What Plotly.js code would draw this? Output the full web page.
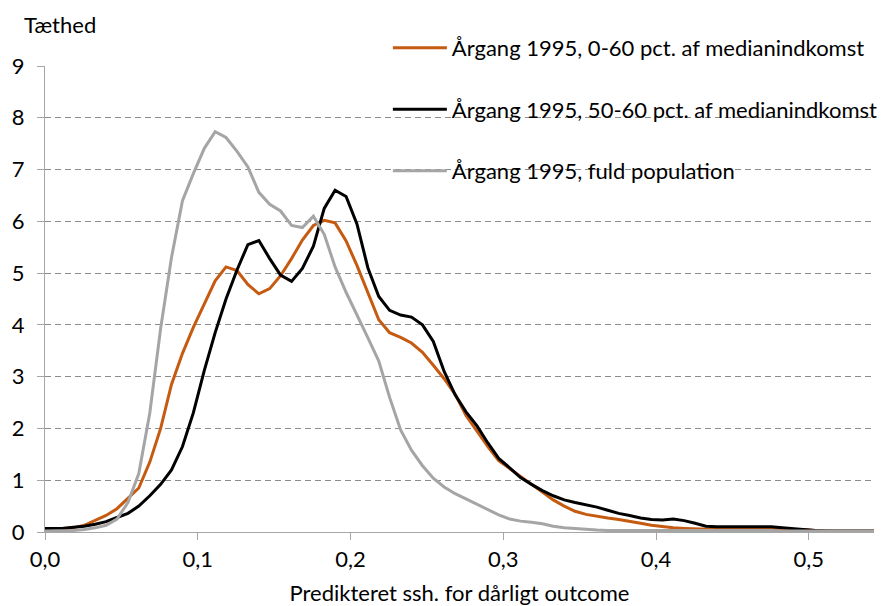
<!DOCTYPE html>
<html>
<head>
<meta charset="utf-8">
<script src="https://cdn.plot.ly/plotly-3.0.1.min.js"></script>
<style>html,body{margin:0;padding:0;background:#fff;}#chart{width:883px;height:606px;}</style>
</head>
<body>
<div id="chart"></div>
<script>
// x: predicted probability grid
const xVals = [0.0000,0.0114,0.0186,0.0257,0.0329,0.0400,0.0471,0.0543,0.0614,0.0686,0.0757,0.0828,0.0900,0.0971,0.1043,0.1114,0.1185,0.1257,0.1328,0.1400,0.1471,0.1542,0.1614,0.1685,0.1757,0.1828,0.1899,0.1971,0.2042,0.2114,0.2185,0.2256,0.2328,0.2399,0.2471,0.2542,0.2613,0.2685,0.2756,0.2828,0.2899,0.2970,0.3042,0.3113,0.3185,0.3256,0.3327,0.3399,0.3470,0.3542,0.3613,0.3684,0.3756,0.3827,0.3899,0.3970,0.4041,0.4113,0.4184,0.4256,0.4327,0.4398,0.4470,0.4541,0.4613,0.4684,0.4755,0.4827,0.4898,0.4970,0.5041,0.5112,0.5184,0.5255,0.5327,0.5398,0.5469];

const seriesNames = ["Årgang 1995, 0-60 pct. af medianindkomst","Årgang 1995, 50-60 pct. af medianindkomst","Årgang 1995, fuld population"];

const orange = [0.05,0.06,0.08,0.13,0.22,0.32,0.45,0.65,0.85,1.35,2.00,2.85,3.45,3.95,4.40,4.85,5.12,5.05,4.78,4.60,4.70,4.95,5.28,5.64,5.92,6.02,5.97,5.62,5.15,4.62,4.10,3.85,3.76,3.65,3.47,3.22,2.96,2.66,2.25,1.95,1.65,1.38,1.22,1.08,0.92,0.77,0.62,0.50,0.40,0.34,0.30,0.27,0.24,0.21,0.17,0.13,0.10,0.08,0.07,0.06,0.05,0.05,0.05,0.05,0.05,0.05,0.05,0.05,0.05,0.05,0.03,0.02,0.02,0.02,0.02,0.02,0.02];

const black = [0.07,0.07,0.09,0.11,0.15,0.20,0.28,0.36,0.50,0.70,0.92,1.20,1.65,2.30,3.12,3.85,4.50,5.06,5.55,5.63,5.28,4.96,4.84,5.09,5.52,6.25,6.60,6.48,5.95,5.10,4.55,4.28,4.19,4.15,4.00,3.68,3.10,2.65,2.32,2.05,1.72,1.42,1.24,1.05,0.92,0.80,0.70,0.62,0.57,0.53,0.48,0.42,0.36,0.32,0.27,0.24,0.23,0.25,0.22,0.17,0.11,0.10,0.10,0.10,0.11,0.11,0.10,0.08,0.06,0.05,0.03,0.02,0.02,0.02,0.02,0.02,0.02];

const gray = [0.02,0.02,0.03,0.05,0.08,0.13,0.25,0.57,1.13,2.30,3.93,5.30,6.40,6.92,7.41,7.73,7.62,7.35,7.05,6.56,6.33,6.20,5.92,5.88,6.10,5.75,5.12,4.63,4.20,3.75,3.30,2.60,1.97,1.58,1.28,1.04,0.87,0.74,0.64,0.54,0.44,0.33,0.25,0.21,0.19,0.16,0.11,0.08,0.07,0.05,0.04,0.03,0.03,0.03,0.03,0.04,0.04,0.03,0.03,0.03,0.03,0.03,0.03,0.03,0.03,0.03,0.03,0.02,0.02,0.02,0.02,0.02,0.02,0.02,0.02,0.02,0.02];

const xTicks = [0, 0.1, 0.2, 0.3, 0.4, 0.5];
const yTicks = [0,1,2,3,4,5,6,7,8,9];

const FONT = "Lato, Carlito, Calibri, 'Open Sans', sans-serif";
const FS = 22;
const colors = ["#C55A11", "#000000", "#A5A5A5"];
const data = [orange, black, gray].map((ys, i) => ({
  x: xVals, y: ys, type: "scatter", mode: "lines",
  name: seriesNames[i], legendgroup: "g" + i,
  line: {color: colors[i], width: 3},
  hoverinfo: "skip"
}));

const layout = {
  width: 883, height: 606,
  margin: {l: 45, r: 0, t: 66, b: 74},
  paper_bgcolor: "#fff", plot_bgcolor: "#fff",
  separators: ",.",
  font: {family: FONT, size: FS, color: "#000"},
  showlegend: true,
  legend: {
    x: 0.4136, y: 1.084, xanchor: "left", yanchor: "top",
    bgcolor: "rgba(0,0,0,0)", borderwidth: 0,
    traceorder: "grouped", tracegroupgap: 30,
    font: {family: FONT, size: FS, color: "#000"},
    itemwidth: 54
  },
  xaxis: {
    range: [0, 0.5427], tickvals: xTicks, tickformat: ".1f",
    showgrid: false, zeroline: false,
    showline: true, linecolor: "#A6A6A6", linewidth: 1,
    ticks: "outside", ticklen: 7, tickcolor: "#A6A6A6",
    tickfont: {family: FONT, size: FS},
    ticklabelstandoff: 1,
    title: {text: "Predikteret ssh. for dårligt outcome", font: {family: FONT, size: FS}, standoff: 23},
    automargin: false
  },
  yaxis: {
    range: [0, 9], tickvals: yTicks,
    showgrid: true, gridcolor: "#8C8C8C", griddash: "6px,4px", gridwidth: 1,
    zeroline: false,
    showline: true, linecolor: "#A6A6A6", linewidth: 1,
    ticks: "outside", ticklen: 7, tickcolor: "#A6A6A6",
    tickfont: {family: FONT, size: FS},
    ticklabelstandoff: 8,
    automargin: false
  },
  annotations: [{
    text: "Tæthed", xref: "paper", yref: "paper",
    x: -0.0274, y: 1.088, xanchor: "left", yanchor: "middle",
    showarrow: false, font: {family: FONT, size: FS, color: "#000"}
  }]
};

Plotly.newPlot("chart", data, layout, {displayModeBar: false, staticPlot: true});
</script>
</body>
</html>
